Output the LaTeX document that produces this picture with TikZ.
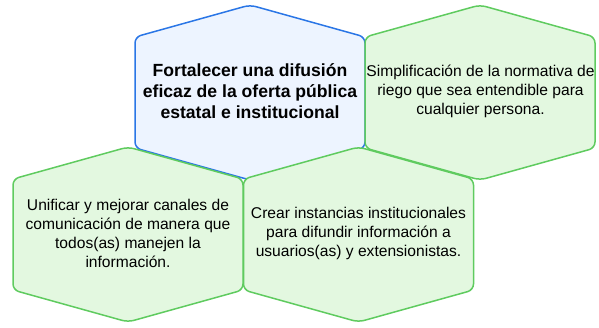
\documentclass[tikz,border=0pt]{standalone}
\usepackage{fontspec}
\setmainfont{Liberation Sans}
\definecolor{bstroke}{HTML}{2A76E6}
\definecolor{bfill}{HTML}{EDF4FF}
\definecolor{gstroke}{HTML}{5FCB5F}
\definecolor{gfill}{HTML}{E3F8E0}
\tikzset{
  hexblue/.style={draw=bstroke,fill=bfill,line width=1.5pt,rounded corners=6pt},
  hexgreen/.style={draw=gstroke,fill=gfill,line width=1.5pt,rounded corners=6pt},
  hextext/.style={align=center,inner sep=0pt,font=\fontsize{15.6}{19}\selectfont},
  hextitle/.style={align=center,inner sep=0pt,font=\fontsize{17.6}{21}\selectfont\bfseries},
}
\newcommand\hexpath[3]{% style, cx, cy
  \path[#1] (#2,#3-87.5) -- (#2+115,#3-55.5) -- (#2+115,#3+55.5) -- (#2,#3+87.5)
    -- (#2-115,#3+55.5) -- (#2-115,#3-55.5) -- cycle;}
\begin{document}
\begin{tikzpicture}[x=1pt,y=-1pt]
\useasboundingbox (0,0) rectangle (599,327);
\hexpath{hexblue}{250}{92.5}
\node[hextitle] (main) at (250,91) {Fortalecer una difusión\\eficaz de la oferta pública\\estatal e institucional};
\hexpath{hexgreen}{480}{92.5}
\node[hextext] (simp) at (480.5,91) {Simplificación de la normativa de\\riego que sea entendible para\\cualquier persona.};
\hexpath{hexgreen}{128}{234.5}
\node[hextext] (unif) at (128,233) {Unificar y mejorar canales de\\comunicación de manera que\\todos(as) manejen la\\información.};
\hexpath{hexgreen}{358.5}{234.5}
\node[hextext] (crear) at (358.5,233) {Crear instancias institucionales\\para difundir información a\\usuarios(as) y extensionistas.};
\end{tikzpicture}
\end{document}
